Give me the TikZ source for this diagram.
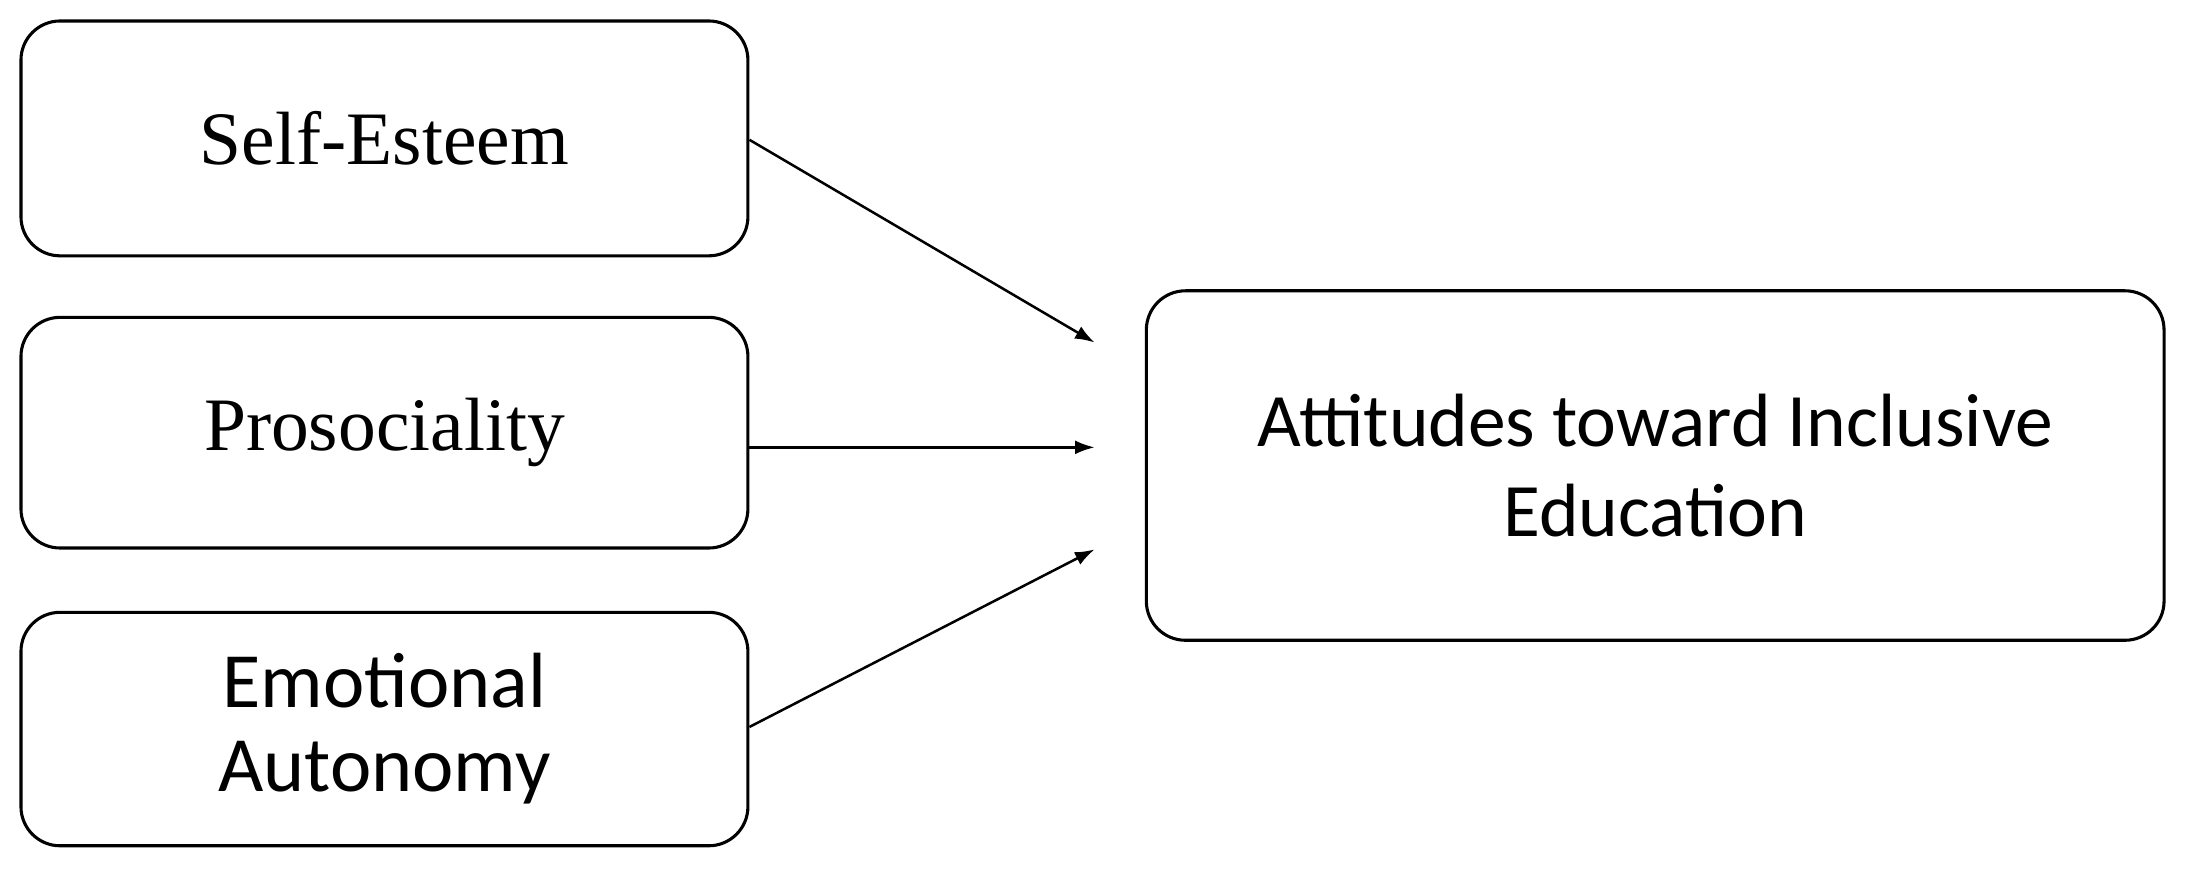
\documentclass[tikz,border=0pt]{standalone}
\usetikzlibrary{arrows.meta}
\usepackage{fontspec}
\setmainfont{Liberation Serif}
\newfontfamily\carlitofont{Carlito}
\begin{document}
\begin{tikzpicture}[x=1pt,y=-1pt,
  bx/.style={draw,line width=2.2pt,rounded corners=28pt,align=center},
  ar/.style={-{Latex[length=14pt,width=10pt]},line width=1.8pt}]
\useasboundingbox (0,0) rectangle (1568,630);
\node[bx,minimum width=520pt,minimum height=168pt,font=\fontsize{54}{62}\selectfont] (se) at (275,99) {Self-Esteem};
\node[bx,minimum width=520pt,minimum height=165pt,font=\fontsize{54}{62}\selectfont] (pr) at (275,309.5) {Prosociality};
\node[bx,minimum width=520pt,minimum height=167pt,font=\carlitofont\fontsize{56}{60}\selectfont] (ea) at (275,521.5) {Emotional\\Autonomy};
\node[bx,minimum width=728pt,minimum height=250pt,font=\carlitofont\fontsize{54}{64}\selectfont] (at) at (1184,333) {Attitudes toward Inclusive\\Education};
\coordinate (a1) at (783,245);
\coordinate (a2) at (783,320);
\coordinate (a3) at (783,393);
\draw[ar] (se.east|-0,100) -- (a1);
\draw[ar] (pr.east|-0,320) -- (a2);
\draw[ar] (ea.east|-0,520) -- (a3);
\end{tikzpicture}
\end{document}
